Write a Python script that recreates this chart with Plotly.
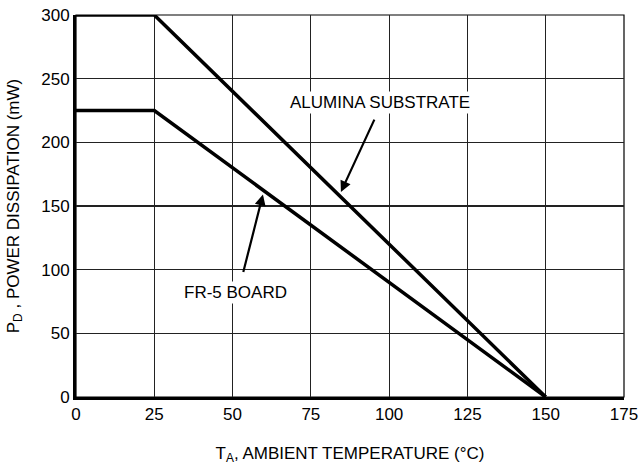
import plotly.graph_objects as go

temp = [0, 25, 150]
alumina = [300, 300, 0]
fr5 = [225, 225, 0]
x_ticks = [0, 25, 50, 75, 100, 125, 150, 175]
y_ticks = [0, 50, 100, 150, 200, 250, 300]

FONT = "Liberation Sans Narrow, Liberation Sans, Arial, sans-serif"

fig = go.Figure()
fig.add_trace(go.Scatter(x=temp, y=alumina, mode="lines",
                         line=dict(color="black", width=3.5), showlegend=False))
fig.add_trace(go.Scatter(x=temp, y=fr5, mode="lines",
                         line=dict(color="black", width=3.5), showlegend=False))

# thin frame on top/right
fig.add_shape(type="rect", xref="paper", yref="paper", x0=0, y0=0, x1=1, y1=1,
              line=dict(color="black", width=1.2), layer="below")

# arrows
fig.add_annotation(x=84.6, y=161, ax=95.5, ay=219, xref="x", yref="y",
                   axref="x", ayref="y", text="", showarrow=True,
                   arrowhead=2, arrowsize=1, arrowwidth=2.2, arrowcolor="black")
fig.add_annotation(x=59.7, y=159, ax=53.3, ay=97, xref="x", yref="y",
                   axref="x", ayref="y", text="", showarrow=True,
                   arrowhead=2, arrowsize=1, arrowwidth=2.2, arrowcolor="black")
# labels
fig.add_annotation(x=97.1, y=231, xref="x", yref="y", text="ALUMINA SUBSTRATE",
                   showarrow=False, bgcolor="white",
                   font=dict(family=FONT, size=17, color="black"))
fig.add_annotation(x=50.8, y=82, xref="x", yref="y", text="FR-5 BOARD",
                   showarrow=False, bgcolor="white",
                   font=dict(family=FONT, size=17, color="black"))

fig.update_layout(
    width=642, height=470,
    margin=dict(l=76, r=18, t=15, b=73, autoexpand=False),
    paper_bgcolor="white", plot_bgcolor="white",
    font=dict(family=FONT, size=17, color="black"),
    xaxis=dict(range=[0, 175], tickvals=x_ticks, ticktext=[str(v) for v in x_ticks],
               showgrid=True, gridcolor="#222", gridwidth=1.2,
               showline=True, linecolor="black", linewidth=3,
               ticks="", zeroline=False, automargin=False, ticklabeloverflow="allow",
               title=dict(text="T<sub>A</sub>, AMBIENT TEMPERATURE (°C)", standoff=24,
                          font=dict(size=17))),
    yaxis=dict(range=[0, 300], tickvals=y_ticks, ticktext=[str(v) for v in y_ticks],
               showgrid=True, gridcolor="#222", gridwidth=1.2,
               showline=True, linecolor="black", linewidth=3,
               ticks="", zeroline=False, automargin=False, ticklabeloverflow="allow",
               title=dict(text="P<sub>D</sub> , POWER DISSIPATION (mW)", standoff=18,
                          font=dict(size=17))),
)

fig.write_html("out.html", config={"displayModeBar": False, "staticPlot": True},
               post_script="document.body.style.margin='0';document.body.style.overflow='hidden';")
